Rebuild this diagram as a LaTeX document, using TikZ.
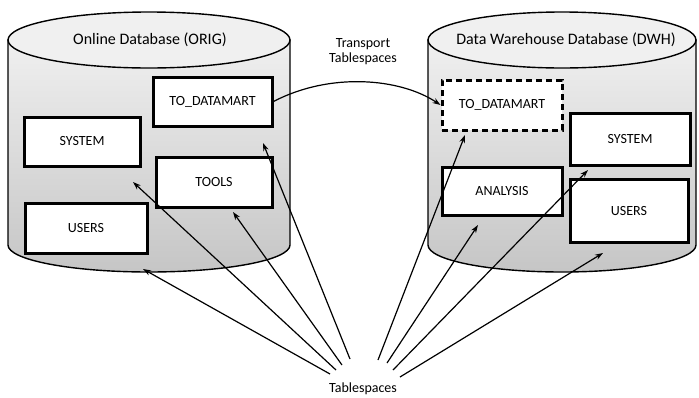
\documentclass[tikz,border=0pt]{standalone}
\usepackage{fontspec}
\setmainfont{Carlito}
\usetikzlibrary{arrows.meta}
\begin{document}
\begin{tikzpicture}[x=1pt,y=-1pt,
  dbbody/.style={draw=black,line width=1.4pt,top color=gray!12,bottom color=gray!45},
  dbtop/.style={draw=black,line width=1.4pt,fill=gray!12},
  tsbox/.style={draw=black,line width=3pt,fill=white,inner sep=0pt,font=\fontsize{14}{16}\selectfont},
  tsdash/.style={tsbox,dash pattern=on 6pt off 4pt},
  link/.style={line width=1.2pt,-{Stealth[length=8pt,width=5.5pt]}},
  lbl/.style={font=\fontsize{14}{15}\selectfont,align=center},
  dbtitle/.style={font=\fontsize{16}{18}\selectfont}]
\useasboundingbox (0,0) rectangle (699,397);

% source database cylinder
\path[dbbody] (8,40) -- (8,245) arc[start angle=180,end angle=0,x radius=141,y radius=27] -- (290,40) -- cycle;
\draw[dbtop] (149,40) ellipse [x radius=141,y radius=28];
\node[dbtitle] (srctitle) at (150,40) {Online Database (ORIG)};

% target database cylinder
\path[dbbody] (428,40) -- (428,245) arc[start angle=180,end angle=0,x radius=134,y radius=27] -- (696,40) -- cycle;
\draw[dbtop] (562,40) ellipse [x radius=134,y radius=28];
\node[dbtitle] (dsttitle) at (566,40) {Data Warehouse Database (DWH)};

% tablespaces of the source database
\node[tsbox,minimum width=119pt,minimum height=49pt] (sdm) at (212.5,101.5) {TO\_DATAMART};
\node[tsbox,minimum width=116pt,minimum height=49pt] (ssys) at (82,141.5) {SYSTEM};
\node[tsbox,minimum width=116pt,minimum height=50pt] (stools) at (214,182) {TOOLS};
\node[tsbox,minimum width=122pt,minimum height=50pt] (susers) at (86,228) {USERS};

% tablespaces of the target database
\node[tsdash,minimum width=120pt,minimum height=50pt] (ddm) at (502,105) {TO\_DATAMART};
\node[tsbox,minimum width=120pt,minimum height=52pt] (dsys) at (630,139) {SYSTEM};
\node[tsbox,minimum width=120pt,minimum height=48pt] (dana) at (502,191) {ANALYSIS};
\node[tsbox,minimum width=118pt,minimum height=63pt] (dusers) at (629,211) {USERS};

% transport of the tablespace
\node[lbl] (transport) at (363,52) {Transport\\Tablespaces};
\draw[link] (sdm.east) .. controls (330,72) and (400,78) .. (ddm.west);

% tablespaces label and its pointers
\node[lbl] (ts) at (363,389) {Tablespaces};
\coordinate (la) at (143,269);
\coordinate (lb) at (133,182);
\coordinate (lc) at (233,212);
\coordinate (ld) at (263,143);
\coordinate (ra) at (465,135);
\coordinate (rb) at (478,225);
\coordinate (rc) at (588,170);
\coordinate (rd) at (603,253);
\coordinate (ta) at (330,374);
\coordinate (tb) at (336,370);
\coordinate (tc) at (342,365);
\coordinate (td) at (350,359);
\coordinate (te) at (378,360);
\coordinate (tf) at (387,363);
\coordinate (tg) at (393,370);
\coordinate (th) at (400,377);
\draw[link] (ta) -- (la);
\draw[link] (tb) -- (lb);
\draw[link] (tc) -- (lc);
\draw[link] (td) -- (ld);
\draw[link] (te) -- (ra);
\draw[link] (tf) -- (rb);
\draw[link] (tg) -- (rc);
\draw[link] (th) -- (rd);
\end{tikzpicture}
\end{document}
